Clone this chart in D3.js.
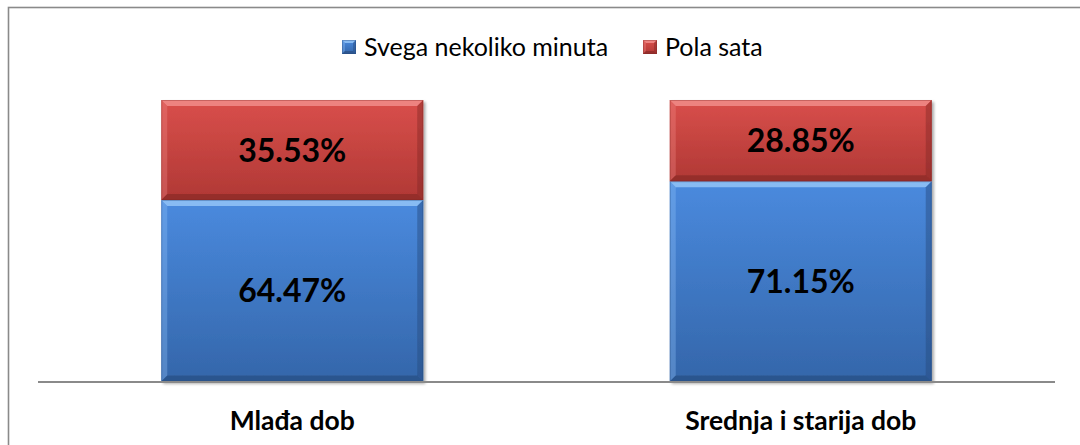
<!DOCTYPE html>
<html>
<head>
<meta charset="utf-8">
<script src="https://cdn.jsdelivr.net/npm/d3@7"></script>
<style>
  html, body { margin: 0; padding: 0; background: #fff; }
  svg { display: block; }
  text { font-family: Lato, "Noto Sans", sans-serif; }
</style>
</head>
<body>
<svg id="chart" width="1080" height="445"></svg>
<script>
// Age groups and the share of each answer within the group
const categories = ["Mlađa dob", "Srednja i starija dob"];
const seriesNames = ["Svega nekoliko minuta", "Pola sata"];
const fewMinutes = [64.47, 71.15];
const halfHour = [35.53, 28.85];

const palette = {
  "Svega nekoliko minuta": { top: "#4a8ade", bottom: "#3466aa", light: "#8fc1f5", dark: "#26497c" },
  "Pola sata": { top: "#d94f4b", bottom: "#b03835", light: "#f08a86", dark: "#822725" }
};

const svg = d3.select("#chart");
const W = 1080, H = 445;
const plot = { left: 38, right: 1055, top: 100, bottom: 381.5 };

// outer frame
svg.append("rect")
  .attr("x", 8.5).attr("y", 7.5)
  .attr("width", W + 20).attr("height", H + 20)
  .attr("fill", "#fff").attr("stroke", "#8a8a8a").attr("stroke-width", 1.6);

const defs = svg.append("defs");
seriesNames.forEach((s, i) => {
  const g = defs.append("linearGradient").attr("id", "grad" + i)
    .attr("x1", 0).attr("y1", 0).attr("x2", 0).attr("y2", 1);
  g.append("stop").attr("offset", "0%").attr("stop-color", palette[s].top);
  g.append("stop").attr("offset", "100%").attr("stop-color", palette[s].bottom);
});
const shadow = defs.append("filter").attr("id", "shadow")
  .attr("x", "-5%").attr("y", "-5%").attr("width", "115%").attr("height", "115%");
shadow.append("feGaussianBlur").attr("in", "SourceAlpha").attr("stdDeviation", 1.6);
shadow.append("feOffset").attr("dx", 2).attr("dy", 2).attr("result", "b");
shadow.append("feComponentTransfer").append("feFuncA").attr("type", "linear").attr("slope", 0.35);
const merge = shadow.append("feMerge");
merge.append("feMergeNode");
merge.append("feMergeNode").attr("in", "SourceGraphic");

const x = d3.scaleBand()
  .domain(categories)
  .range([plot.left, plot.right])
  .paddingInner(0.4848)
  .paddingOuter(0.2424);

const y = d3.scaleLinear().domain([0, 100]).range([plot.bottom, plot.top]);

const rows = categories.map((c, i) => ({
  category: c,
  "Svega nekoliko minuta": fewMinutes[i],
  "Pola sata": halfHour[i]
}));
const stacked = d3.stack().keys(seriesNames)(rows);

// a bar segment with bevelled edges
function bevelRect(g, x0, y0, w, h, key, gi, b = 6) {
  const c = palette[key];
  const seg = g.append("g");
  seg.append("rect").attr("x", x0).attr("y", y0).attr("width", w).attr("height", h)
    .attr("fill", `url(#grad${gi})`);
  const x1 = x0 + w, y1 = y0 + h;
  const poly = (pts, fill, op) => seg.append("polygon")
    .attr("points", pts.map(p => p.join(",")).join(" "))
    .attr("fill", fill).attr("opacity", op);
  poly([[x0, y0], [x1, y0], [x1 - b, y0 + b], [x0 + b, y0 + b]], c.light, 0.9);
  poly([[x0, y0], [x0 + b, y0 + b], [x0 + b, y1 - b], [x0, y1]], c.light, 0.35);
  poly([[x1, y0], [x1, y1], [x1 - b, y1 - b], [x1 - b, y0 + b]], c.dark, 0.45);
  poly([[x0, y1], [x0 + b, y1 - b], [x1 - b, y1 - b], [x1, y1]], c.dark, 0.6);
  seg.append("rect").attr("x", x0 + 0.5).attr("y", y0 + 0.5).attr("width", w - 1).attr("height", h - 1)
    .attr("fill", "none").attr("stroke", c.dark).attr("stroke-opacity", 0.35).attr("stroke-width", 1);
}

const barsG = svg.append("g").attr("filter", "url(#shadow)");
stacked.forEach((layer, li) => {
  layer.forEach(d => {
    bevelRect(barsG, x(d.data.category), y(d[1]), x.bandwidth(), y(d[0]) - y(d[1]), layer.key, li);
  });
});

// value labels
stacked.forEach(layer => {
  layer.forEach(d => {
    svg.append("text")
      .attr("x", x(d.data.category) + x.bandwidth() / 2)
      .attr("y", (y(d[0]) + y(d[1])) / 2)
      .attr("dy", "0.36em")
      .attr("text-anchor", "middle")
      .attr("font-size", 32).attr("font-weight", "bold").attr("fill", "#000")
      .text(d3.format(".2f")(d.data[layer.key]) + "%");
  });
});

// category axis
svg.append("line")
  .attr("x1", plot.left).attr("x2", plot.right)
  .attr("y1", plot.bottom + 0.5).attr("y2", plot.bottom + 0.5)
  .attr("stroke", "#8a8a8a").attr("stroke-width", 2);

categories.forEach(c => {
  svg.append("text")
    .attr("x", x(c) + x.bandwidth() / 2).attr("y", 420)
    .attr("dy", "0.36em").attr("text-anchor", "middle")
    .attr("font-size", 26.5).attr("font-weight", "bold").attr("fill", "#000")
    .text(c);
});

// legend
const legendItems = [
  { name: seriesNames[0], x: 342 },
  { name: seriesNames[1], x: 643 }
];
legendItems.forEach((it, i) => {
  const g = svg.append("g");
  bevelRect(g, it.x, 40, 14, 14, it.name, i, 3);
  g.append("text").attr("x", it.x + 22).attr("y", 47).attr("dy", "0.36em")
    .attr("font-size", 25).attr("fill", "#000").text(it.name);
});
</script>
</body>
</html>
